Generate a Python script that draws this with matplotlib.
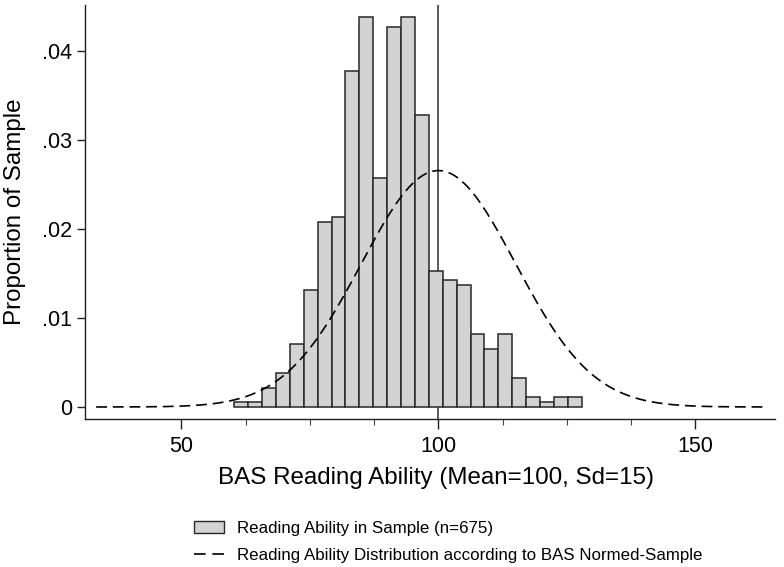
import numpy as np
import matplotlib
matplotlib.use("Agg")
import matplotlib.pyplot as plt
from matplotlib.patches import Patch
from matplotlib.lines import Line2D

plt.rcParams['font.family'] = ['Liberation Sans', 'DejaVu Sans']

# histogram of BAS reading scores (25 bins, n=675)
n_total = 675
bin_start = 60.27
bin_width = 2.704
counts = [1, 1, 4, 7, 13, 24, 38, 39, 69, 80, 47, 78, 80, 60,
          28, 26, 25, 15, 12, 15, 6, 2, 1, 2, 2]

# normed BAS distribution
norm_mean = 100
norm_sd = 15
curve_from, curve_to = 33.4, 163.9

x_ticks = [50, 100, 150]
x_minor = [62.5, 75, 87.5, 112.5, 125, 137.5]
y_ticks = [0, 0.01, 0.02, 0.03, 0.04]
y_tick_labels = ['0', '.01', '.02', '.03', '.04']

label_hist = 'Reading Ability in Sample (n=675)'
label_norm = 'Reading Ability Distribution according to BAS Normed-Sample'

W, H = 784, 567
fig = plt.figure(figsize=(W / 100, H / 100), dpi=100)
ax = fig.add_axes([85 / W, (H - 419) / H, (775 - 85) / W, (419 - 5) / H])

# bars as densities
edges = bin_start + bin_width * np.arange(len(counts))
dens = np.array(counts) / (n_total * bin_width)
ax.bar(edges, dens, width=bin_width, align='edge', color='#d3d3d3',
       edgecolor='#282828', linewidth=1.1, zorder=2)

# theoretical normal curve
xs = np.linspace(curve_from, curve_to, 400)
ys = np.exp(-0.5 * ((xs - norm_mean) / norm_sd) ** 2) / (norm_sd * np.sqrt(2 * np.pi))
ax.plot(xs, ys, color='black', lw=1.2, dashes=(6.5, 3.5), zorder=3)

# reference line at the mean
ax.axvline(norm_mean, color='#404040', lw=1.2, zorder=1)

ax.set_xlim(31.23, 165.47)
ax.set_ylim(-0.00135, 0.04522)

for side in ['top', 'right']:
    ax.spines[side].set_visible(False)
for side in ['left', 'bottom']:
    ax.spines[side].set_linewidth(1.0)
    ax.spines[side].set_color('#202020')

ax.set_xticks(x_ticks)
ax.set_xticks(x_minor, minor=True)
ax.set_yticks(y_ticks)
ax.set_yticklabels(y_tick_labels)
ax.tick_params(axis='x', which='major', length=7, width=1.0, labelsize=15.5, pad=5, color='#202020')
ax.tick_params(axis='x', which='minor', length=4, width=0.8, color='#404040')
ax.tick_params(axis='y', which='major', length=6, width=1.0, labelsize=15.5, pad=3, color='#202020')

ax.set_xlabel('BAS Reading Ability (Mean=100, Sd=15)', fontsize=17.4, va='center')
ax.xaxis.set_label_coords(0.509, -0.1425)
ax.set_ylabel('Proportion of Sample', fontsize=17.4, va='center')
ax.yaxis.set_label_coords(-0.1014, 0.5)

handles = [Patch(facecolor='#d3d3d3', edgecolor='#282828', linewidth=1.0),
           Line2D([0], [0], color='black', lw=1.2, dashes=(7, 4))]
fig.legend(handles, [label_hist, label_norm], loc='upper left',
           bbox_to_anchor=(194 / W, 1 - 521 / H), frameon=False, fontsize=12.2,
           handlelength=1.78, handleheight=0.75, handletextpad=0.77, labelspacing=0.7,
           borderaxespad=0, borderpad=0)

fig.savefig('out.png', dpi=100)
